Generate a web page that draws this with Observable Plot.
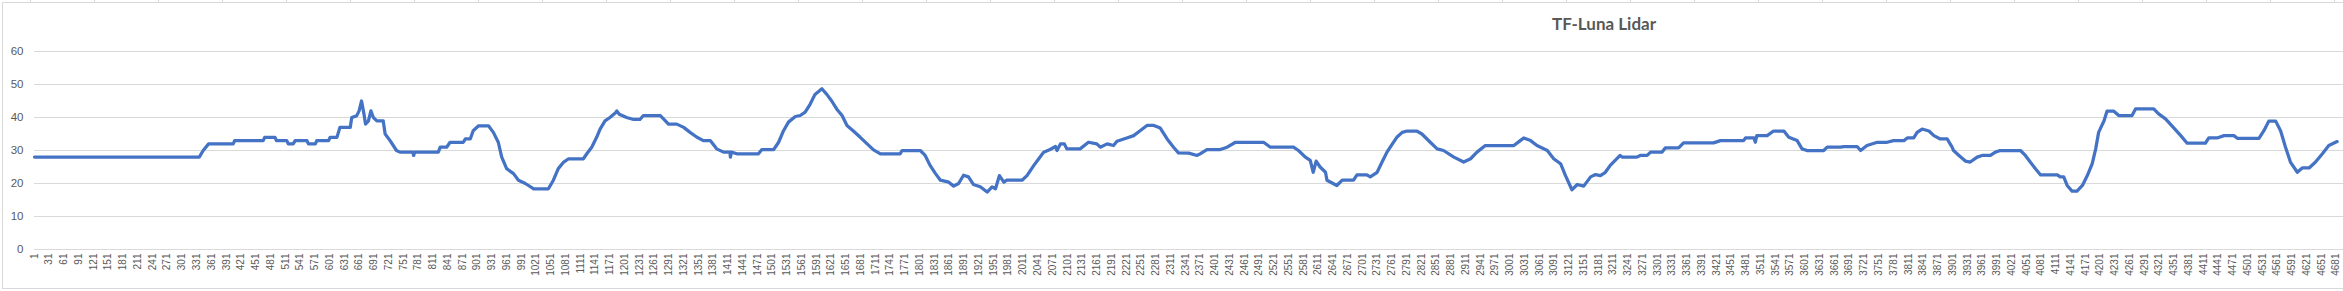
<!DOCTYPE html>
<html>
<head>
<meta charset="utf-8">
<script src="https://cdn.jsdelivr.net/npm/d3@7"></script>
<script src="https://cdn.jsdelivr.net/npm/@observablehq/plot@0.6"></script>
<style>
  html, body { margin: 0; padding: 0; background: #fff; }
  #wrap { position: relative; width: 2343px; height: 291px; overflow: hidden; }
  #cols { position: absolute; left: 0; top: 0; width: 2343px; height: 2px;
          background: repeating-linear-gradient(to right, transparent 0 30px, #d9d9d9 30px 31px, transparent 31px 64px); }
  #frame { position: absolute; left: 2px; top: 2px; width: 2360px; height: 287px; border: 1px solid #d9d9d9; box-sizing: border-box; }
  #title { position: absolute; left: 1604px; top: 15px; transform: translateX(-50%); font: bold 17px Lato, "Open Sans", sans-serif; line-height: 17px; color: #595959; white-space: nowrap; }
  #chart { position: absolute; left: 0; top: 0; }
</style>
</head>
<body>
<div id="wrap">
  <div id="cols"></div>
  <div id="frame"></div>
  <div id="chart"></div>
  <div id="title"></div>
</div>
<script>
const chartTitle = "TF-Luna Lidar";
const yTicks = [0, 10, 20, 30, 40, 50, 60];
const xTicks = d3.range(1, 4682, 30);

const sampleIndex = [
  1, 336, 344, 355, 405, 408, 466, 469, 490, 493, 514, 517, 527, 531, 555, 558, 572, 575, 599, 602,
  616, 619, 622, 643, 646, 656, 661, 666, 671, 674, 680, 685, 690, 697, 710, 714, 724, 737,
  744, 770, 772, 774, 822, 826, 839, 846, 873, 877, 887, 893, 904, 924, 934, 944, 951, 961, 975, 985,
  999, 1016, 1046, 1056, 1066, 1077, 1087, 1117, 1124, 1134, 1144, 1151, 1161, 1171, 1183, 1185, 1190,
  1205, 1219, 1232, 1239, 1273, 1280, 1290, 1307, 1321, 1334, 1348, 1361, 1375, 1388, 1402, 1415, 1416,
  1418, 1429, 1473, 1480, 1504, 1514, 1524, 1534, 1548,
  1558, 1568, 1578, 1588, 1602, 1612, 1622, 1632, 1643, 1653, 1666, 1680, 1694, 1707, 1721, 1761, 1765,
  1802, 1812, 1822, 1833, 1843, 1860, 1870, 1880, 1890, 1900, 1910, 1924, 1938, 1948, 1955, 1963, 1972,
  1978, 2009, 2019, 2033, 2043, 2053, 2066, 2077, 2080, 2087, 2095, 2100, 2127, 2144, 2161, 2168, 2182,
  2195, 2202, 2222, 2236, 2249, 2263, 2277, 2290, 2304, 2317, 2327, 2348, 2365,
  2371, 2385, 2412, 2426, 2443, 2500, 2514, 2561, 2571, 2585, 2595, 2601, 2607, 2615, 2626, 2629, 2649,
  2660, 2683, 2690, 2710, 2717, 2731, 2741, 2751, 2761, 2771, 2782, 2792, 2812, 2822, 2839, 2853, 2866,
  2887, 2907, 2921, 2934, 2951, 3009, 3022, 3029, 3043, 3056, 3077, 3090, 3104, 3114, 3127, 3138, 3151,
  3165, 3175,
  3185, 3195, 3205, 3215, 3225, 3229, 3259, 3266, 3280, 3287, 3310, 3317, 3344, 3354, 3415, 3429, 3476,
  3480, 3497, 3500, 3503, 3524, 3537, 3558, 3568, 3585, 3595, 3605, 3639, 3646, 3673, 3680, 3707, 3714,
  3727, 3748, 3768, 3781, 3802, 3809, 3822, 3829, 3839, 3853, 3863, 3876, 3890,
  3900, 3903, 3914, 3927, 3937, 3951, 3961, 3978, 3988, 3998, 4039, 4049, 4059, 4070, 4080, 4114, 4120,
  4127, 4134, 4144, 4154, 4165, 4175, 4185, 4192, 4198, 4209, 4215, 4229, 4239, 4266, 4273, 4310, 4320,
  4334, 4348, 4365, 4378, 4415, 4422, 4439, 4453, 4473, 4480, 4524, 4534, 4544, 4558, 4568, 4578, 4588,
  4602, 4612, 4626, 4639, 4653, 4666, 4683
];
const distanceCm = [
  28, 28, 30, 32, 32, 33, 33, 34, 34, 33, 33, 32, 32, 33, 33, 32, 32, 33, 33, 34,
  34, 35.5, 37, 37, 40, 40.5, 42, 45, 41, 38, 39, 42, 40, 39, 39, 35, 33, 30,
  29.5, 29.5, 28.5, 29.5, 29.5, 31, 31, 32.5, 32.5, 33.5, 33.5, 36, 37.5, 37.5, 35.5, 32.5, 28, 24.5, 23, 21,
  20, 18.4, 18.4, 21, 24.5, 26.5, 27.5, 27.5, 29, 31, 34, 36.5, 39, 40, 41.5, 42, 41,
  40, 39.4, 39.4, 40.6, 40.6, 39.6, 38, 38, 37, 35.5, 34, 33, 33, 30.5, 29.5, 29.5, 28,
  29.5, 29, 29, 30.3, 30.3, 32.5, 36, 38.6, 40.3,
  40.6, 41.6, 44, 47, 48.7, 47, 45, 42.6, 40.6, 37.6, 35.9, 34, 32, 30.2, 29, 29, 30,
  30, 28.5, 25.5, 23, 21, 20.4, 19.2, 20, 22.5, 22, 19.7, 19, 17.4, 19, 18.4, 22.4, 20.4,
  21, 21, 22.4, 25.5, 27.5, 29.5, 30.3, 31.2, 30, 32, 32, 30.5, 30.5, 32.5, 32, 31, 32,
  31.5, 32.8, 33.8, 34.5, 36, 37.6, 37.6, 36.8, 33.5, 31, 29.3, 29.2, 28.5,
  29, 30.3, 30.3, 31, 32.5, 32.5, 31, 31, 30, 28, 27, 23.4, 26.8, 25, 23.4, 21, 19.4,
  21, 21, 22.6, 22.6, 22, 23.4, 26.5, 29.5, 31.8, 34, 35.5, 35.9, 35.9, 35, 32.5, 30.5, 30,
  28, 26.5, 27.5, 29.5, 31.5, 31.5, 33, 33.8, 33, 31.5, 30, 27.5, 26, 22.4, 18.1, 19.7, 19.2,
  22, 22.7,
  22.4, 23.4, 25.5, 27, 28.5, 28, 28, 28.5, 28.5, 29.5, 29.5, 30.8, 30.8, 32.3, 32.3, 33, 33,
  33.8, 33.8, 32.5, 34.5, 34.5, 35.9, 35.9, 34, 33, 30.5, 30, 30, 31, 31, 31.2, 31.2, 30,
  31.5, 32.5, 32.5, 33, 33, 33.8, 33.8, 35.5, 36.5, 35.9, 34.5, 33.5, 33.5,
  31, 30, 28.5, 26.8, 26.5, 28, 28.5, 28.5, 29.5, 30, 30, 28.5, 26.5, 24.4, 22.6, 22.6, 22,
  22, 19.4, 17.7, 17.7, 19.4, 22.4, 26, 30.5, 35.5, 39, 41.9, 41.9, 40.6, 40.6, 42.6, 42.6, 41.1,
  39.6, 37.3, 34.5, 32.2, 32.2, 33.8, 33.8, 34.5, 34.5, 33.7, 33.7, 36, 38.9, 38.9, 36, 31, 26.5,
  23.4, 24.7, 24.7, 26.5, 29, 31.5, 32.7
];

const data = sampleIndex.map((i, k) => ({i, d: distanceCm[k]}));

const chart = Plot.plot({
  width: 2343,
  height: 291,
  marginTop: 51,
  marginBottom: 42,
  marginLeft: 34,
  marginRight: 0,
  style: {background: "transparent", color: "#595959", fontFamily: "'Liberation Sans', Arial, sans-serif", overflow: "visible"},
  x: {type: "linear", domain: [1, 4695.9]},
  y: {domain: [0, 60]},
  marks: [
    Plot.ruleY(yTicks, {stroke: "#d9d9d9", strokeWidth: 1, strokeOpacity: 1}),
    Plot.axisY(yTicks, {tickSize: 0, tickPadding: 11, fontSize: 11.5, label: null, tickFormat: d => String(d)}),
    Plot.axisX(xTicks, {tickSize: 0, tickPadding: 4, tickRotate: -90, fontSize: 10, label: null, tickFormat: d => String(d)}),
    Plot.line(data, {x: "i", y: "d", stroke: "#4472C4", strokeWidth: 3.25, strokeLinejoin: "round", strokeLinecap: "round"})
  ]
});
document.getElementById("chart").appendChild(chart);
document.getElementById("title").textContent = chartTitle;
</script>
</body>
</html>
